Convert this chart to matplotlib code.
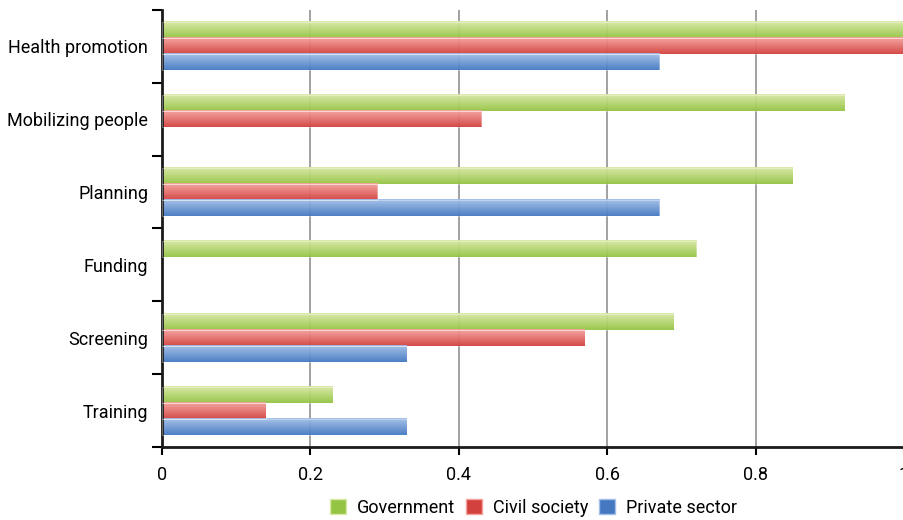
import numpy as np
import matplotlib

matplotlib.use("Agg")
import matplotlib.pyplot as plt
from matplotlib.colors import LinearSegmentedColormap
from matplotlib.patches import Patch

categories = ["Health promotion", "Mobilizing people", "Planning", "Funding", "Screening", "Training"]
government = [1.0, 0.92, 0.85, 0.72, 0.69, 0.23]
civil_society = [1.0, 0.43, 0.29, 0.0, 0.57, 0.14]
private_sector = [0.67, 0.0, 0.67, 0.0, 0.33, 0.33]
x_ticks = [0, 0.2, 0.4, 0.6, 0.8, 1.0]
x_tick_labels = ["0", "0.2", "0.4", "0.6", "0.8", "1"]

series = [
    ("Government", government, "#dbe9a6", "#93c443"),
    ("Civil society", civil_society, "#f6a3a0", "#d2413e"),
    ("Private sector", private_sector, "#a3bfe8", "#4479c2"),
]

plt.rcParams["font.family"] = ["Roboto", "DejaVu Sans"]

fig = plt.figure(figsize=(9.04, 5.2), dpi=100)
ax = fig.add_axes([0.1792, 0.1404, 0.8208, 0.8404])

y = np.arange(len(categories))
h = 0.22
grad = np.linspace(0, 1, 64).reshape(-1, 1)

for i, (name, vals, top, bot) in enumerate(series):
    bars = ax.barh(y + (i - 1) * h, vals, height=h, color="none", edgecolor="none")
    cmap = LinearSegmentedColormap.from_list(name, [top, bot])
    for r in bars.patches:
        w = r.get_width()
        if w <= 0:
            continue
        y0 = r.get_y()
        ax.imshow(grad, cmap=cmap, aspect="auto", extent=(0, w, y0 + h, y0),
                  zorder=2, alpha=0.95, interpolation="bilinear")
        ax.add_patch(plt.Rectangle((0, y0), w, h, fill=False, edgecolor="white",
                                   linewidth=0.6, alpha=0.4, zorder=3))

ax.set_xlim(0, 1)
ax.set_ylim(len(categories) - 0.5, -0.5)
ax.set_xticks(x_ticks)
ax.set_xticklabels(x_tick_labels, fontsize=13)
ax.set_yticks(np.arange(len(categories) + 1) - 0.5)
ax.set_yticklabels([])
ax.set_yticks(y, minor=True)
ax.set_yticklabels(categories, minor=True, fontsize=13)
ax.tick_params(axis="y", which="minor", length=0, pad=10)
ax.tick_params(axis="y", which="major", length=7, width=1.5, direction="out")
ax.tick_params(axis="x", length=6, width=1.5, direction="out", pad=8)

ax.grid(axis="x", color="#9a9a9a", linewidth=1.3, zorder=1)
ax.set_axisbelow(True)
for s in ["top", "right"]:
    ax.spines[s].set_visible(False)
for s in ["left", "bottom"]:
    ax.spines[s].set_linewidth(2)
    ax.spines[s].set_color("#1a1a1a")

handles = [Patch(facecolor=bot, edgecolor=top, label=name) for name, _, top, bot in series]
fig.legend(handles=handles, loc="center", bbox_to_anchor=(0.59, 0.023), ncol=3,
           frameon=False, fontsize=13, handlelength=0.9, handleheight=0.9,
           columnspacing=0.6, handletextpad=0.6)

fig.savefig("out.png", dpi=100)
